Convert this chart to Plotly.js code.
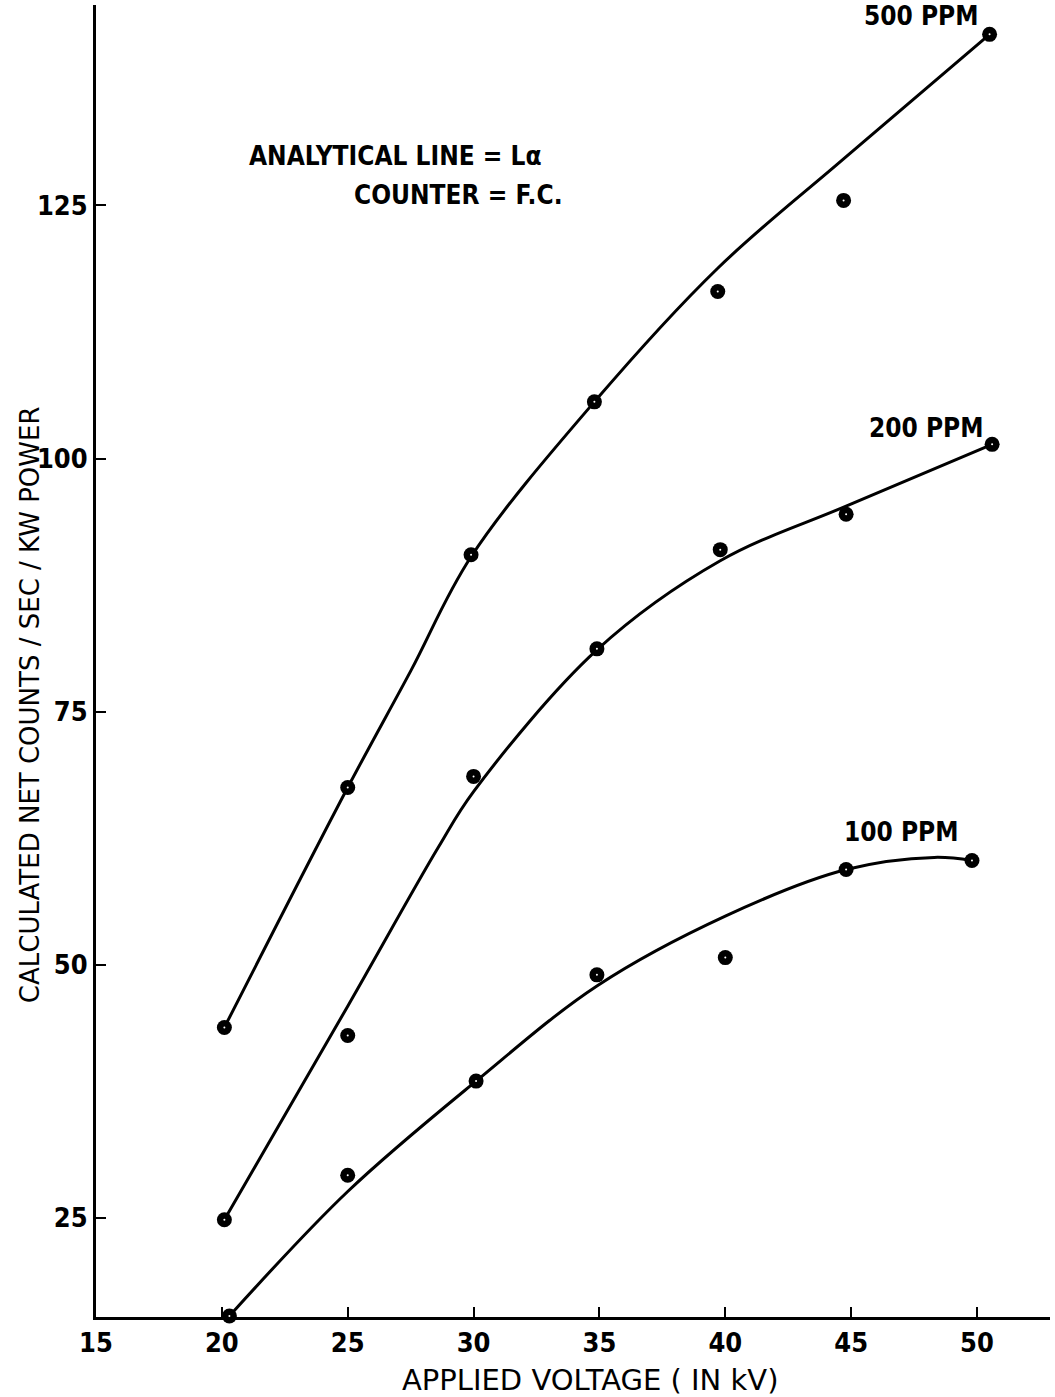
<!DOCTYPE html>
<html>
<head>
<meta charset="utf-8">
<script src="https://cdn.plot.ly/plotly-3.0.1.min.js"></script>
<style>html,body{margin:0;padding:0;background:#fff;}#chart{width:1055px;height:1397px;}</style>
</head>
<body>
<div id="chart"></div>
<script>
// Measured points
const x500 = [20.1, 25.0, 29.9, 34.8, 39.7, 44.7, 50.5];
const y500 = [43.8, 67.5, 90.5, 105.6, 116.5, 125.5, 141.9];
const x200 = [20.1, 25.0, 30.0, 34.9, 39.8, 44.8, 50.6];
const y200 = [24.8, 43.0, 68.6, 81.2, 91.0, 94.5, 101.4];
const x100 = [20.3, 25.0, 30.1, 34.9, 40.0, 44.8, 49.8];
const y100 = [15.3, 29.2, 38.5, 49.0, 50.7, 59.4, 60.3];

// Hand-drawn fitted curves
const c500x = [20.1, 25.0, 27.5, 29.9, 34.8, 39.7, 44.7, 50.5];
const c500y = [43.8, 67.5, 79.0, 90.3, 105.6, 118.8, 129.6, 141.9];
const c200x = [20.1, 25.0, 28.6, 30.0, 34.9, 39.8, 44.8, 50.6];
const c200y = [24.8, 45.9, 61.6, 67.1, 81.1, 89.9, 95.3, 101.4];
const c100x = [20.3, 25.0, 30.1, 34.9, 40.0, 44.8, 48.3, 49.8];
const c100y = [15.3, 27.6, 38.5, 47.9, 54.8, 59.4, 60.6, 60.3];

const xTicks = [15, 20, 25, 30, 35, 40, 45, 50];
const yTicks = [25, 50, 75, 100, 125];

const seriesLabels = ["500 PPM", "200 PPM", "100 PPM"];
const noteLines = ["ANALYTICAL LINE = Lα", "COUNTER = F.C."];

const TICKFONT = "'Liberation Sans Narrow', 'DejaVu Sans Condensed', 'DejaVu Sans'";
const FONT = "'DejaVu Sans Condensed', 'DejaVu Sans'";
const TITLEFONT = "'DejaVu Sans'";

function curve(x, y) {
  return {x: x, y: y, mode: "lines", type: "scatter", hoverinfo: "skip",
          line: {color: "#000", width: 3, shape: "spline", smoothing: 1.0}, showlegend: false};
}
function pts(x, y) {
  return [
    {x: x, y: y, mode: "markers", type: "scatter", showlegend: false, cliponaxis: false,
     marker: {symbol: "circle", size: 15, color: "#000", line: {width: 0}}},
    {x: x, y: y, mode: "markers", type: "scatter", showlegend: false, cliponaxis: false,
     marker: {symbol: "circle", size: 2, color: "#fff", line: {width: 0}}}
  ];
}

const data = [
  curve(c500x, c500y), curve(c200x, c200y), curve(c100x, c100y),
  ...pts(x500, y500), ...pts(x200, y200), ...pts(x100, y100)
];

const annFont = {family: FONT, size: 26, color: "#000", weight: "bold"};
const layout = {
  width: 1055, height: 1397,
  margin: {l: 96, r: 5, t: 5, b: 80},
  paper_bgcolor: "#fff", plot_bgcolor: "#fff",
  showlegend: false,
  xaxis: {
    range: [15, 52.9], tickvals: xTicks, ticktext: xTicks.map(String),
    showgrid: false, zeroline: false, showline: true, linecolor: "#000", linewidth: 3,
    ticks: "inside", ticklen: 10, tickwidth: 2, tickcolor: "#000",
    tickfont: {family: TICKFONT, size: 27, color: "#000", weight: "bold"}
  },
  yaxis: {
    range: [15.2, 144.8], tickvals: yTicks, ticktext: yTicks.map(String),
    showgrid: false, zeroline: false, showline: true, linecolor: "#000", linewidth: 3,
    ticks: "inside", ticklen: 10, tickwidth: 2, tickcolor: "#000",
    tickfont: {family: TICKFONT, size: 27, color: "#000", weight: "bold"}
  },
  annotations: [
    {x: 47.8, y: 143.7, xref: "x", yref: "y", text: seriesLabels[0], showarrow: false, font: annFont},
    {x: 48.0, y: 103.0, xref: "x", yref: "y", text: seriesLabels[1], showarrow: false, font: annFont},
    {x: 47.0, y: 63.1, xref: "x", yref: "y", text: seriesLabels[2], showarrow: false, font: annFont},
    {x: 26.9, y: 129.9, xref: "x", yref: "y", text: noteLines[0], showarrow: false, font: annFont},
    {x: 29.4, y: 126.0, xref: "x", yref: "y", text: noteLines[1], showarrow: false, font: annFont},
    {x: -0.069, y: 0.4665, xref: "paper", yref: "paper", xanchor: "center", yanchor: "middle",
     text: "CALCULATED NET COUNTS / SEC / KW POWER",
     textangle: -90, showarrow: false, font: {family: TITLEFONT, size: 26, color: "#000"}},
    {x: 0.518, y: -0.048, xref: "paper", yref: "paper", xanchor: "center", yanchor: "middle",
     text: "APPLIED VOLTAGE ( IN kV)",
     showarrow: false, font: {family: TITLEFONT, size: 29, color: "#000"}}
  ]
};

Plotly.newPlot("chart", data, layout, {displayModeBar: false, staticPlot: true});
</script>
</body>
</html>
